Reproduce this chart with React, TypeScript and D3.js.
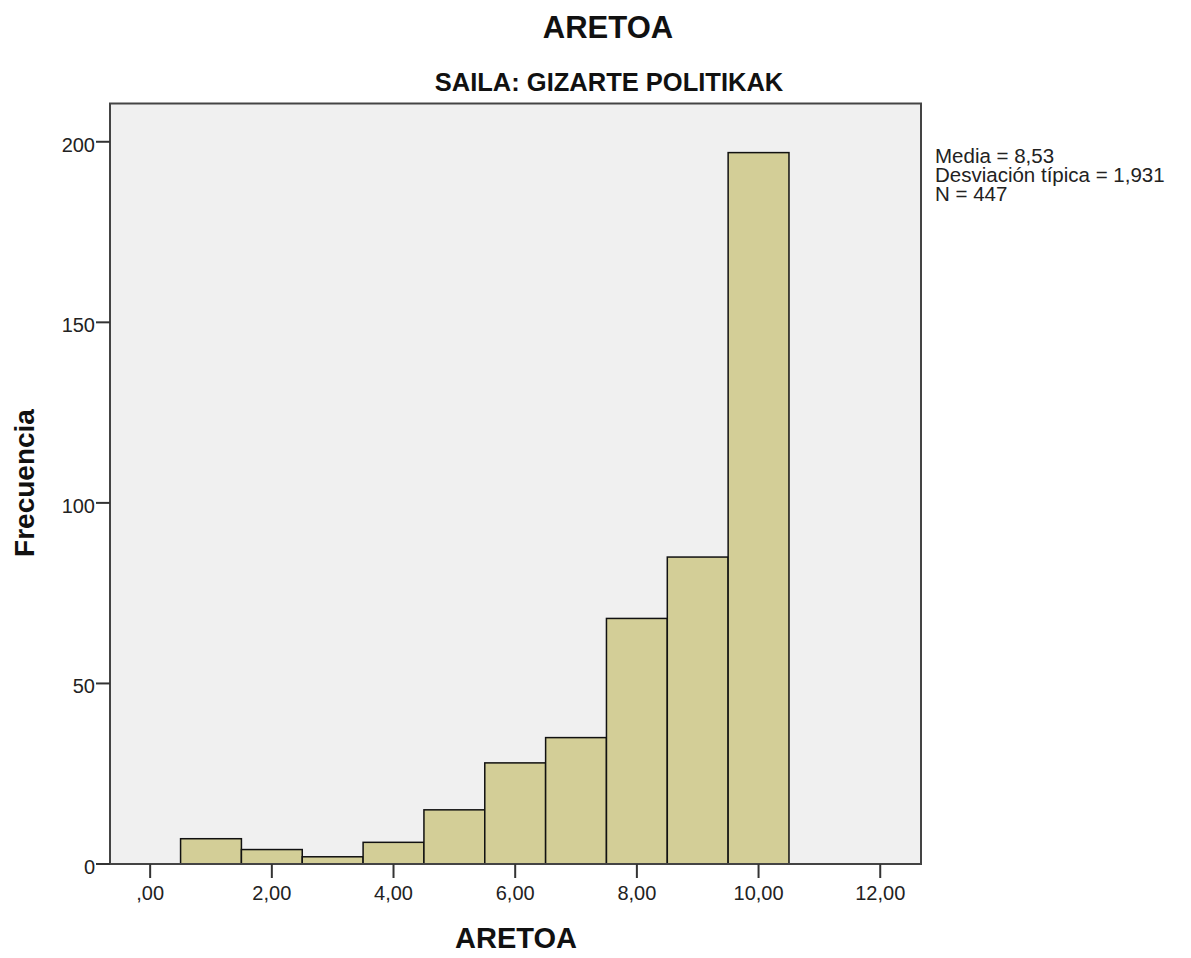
import React from "react";
import * as d3 from "d3";

const binStarts = [0.5, 1.5, 2.5, 3.5, 4.5, 5.5, 6.5, 7.5, 8.5, 9.5];
const counts = [7, 4, 2, 6, 15, 28, 35, 68, 85, 197];
const xTicks = [0, 2, 4, 6, 8, 10, 12];
const yTicks = [0, 50, 100, 150, 200];
const statsLines = ["Media = 8,53", "Desviación típica = 1,931", "N = 447"];

const W = 1191;
const H = 958;
const L = 110, R = 921, T = 103.5, B = 864;
const font = "Liberation Sans, Arial, sans-serif";

export default function App() {
  const x = d3.scaleLinear().domain([-0.66, 12.67]).range([L, R]);
  const y = d3.scaleLinear().domain([0, 210.6]).range([B, T]);
  const fmt = (v: number) => (v === 0 ? ",00" : d3.format(".2f")(v).replace(".", ","));
  return (
    <svg width={W} height={H} style={{ position: "absolute", left: 0, top: 0, background: "#fff" }} fontFamily={font}>
      <text x={608} y={38} textAnchor="middle" fontSize={31} fontWeight="bold" fill="#111">ARETOA</text>
      <text x={609} y={91} textAnchor="middle" fontSize={25.5} fontWeight="bold" fill="#111">SAILA: GIZARTE POLITIKAK</text>
      <rect x={L} y={T} width={R - L} height={B - T} fill="#f0f0f0" />
      {binStarts.map((s, i) => (
        <rect key={i} x={x(s)} y={y(counts[i])} width={x(s + 1) - x(s)} height={B - y(counts[i])}
          fill="#d3ce97" stroke="#111" strokeWidth={1.5} />
      ))}
      <rect x={L} y={T} width={R - L} height={B - T} fill="none" stroke="#444" strokeWidth={2} />
      {yTicks.map((t) => (
        <g key={t}>
          <line x1={L - 14} x2={L} y1={y(t)} y2={y(t)} stroke="#333" strokeWidth={2} />
          <text x={L - 15} y={y(t) + 10} textAnchor="end" fontSize={20} fill="#222">{t}</text>
        </g>
      ))}
      {xTicks.map((t) => (
        <g key={t}>
          <line x1={x(t)} x2={x(t)} y1={B} y2={B + 14} stroke="#333" strokeWidth={2} />
          <text x={x(t)} y={B + 36} textAnchor="middle" fontSize={20} fill="#222">{fmt(t)}</text>
        </g>
      ))}
      <text x={516} y={948} textAnchor="middle" fontSize={29} fontWeight="bold" fill="#111">ARETOA</text>
      <text transform={`translate(34,483) rotate(-90)`} textAnchor="middle" fontSize={28} fontWeight="bold" fill="#111">Frecuencia</text>
      {statsLines.map((s, i) => (
        <text key={i} x={935} y={163 + i * 19} fontSize={20.5} fill="#222">{s}</text>
      ))}
    </svg>
  );
}
